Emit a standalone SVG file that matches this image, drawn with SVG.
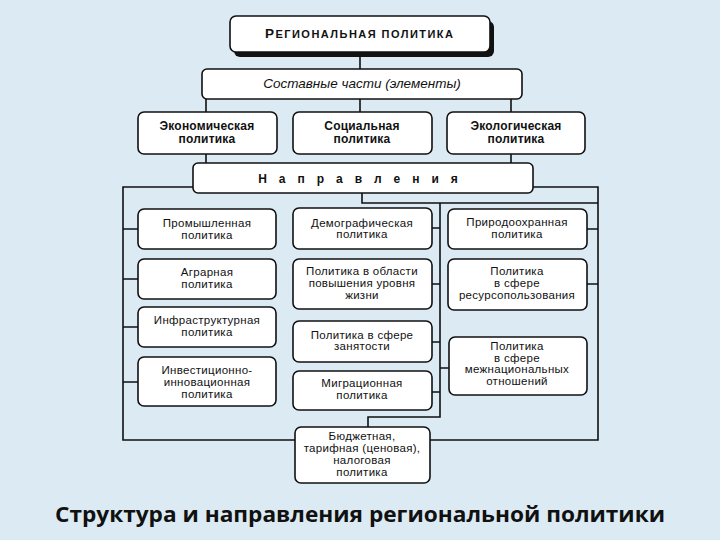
<svg xmlns="http://www.w3.org/2000/svg" width="720" height="540" viewBox="0 0 720 540">
<style>
.box{fill:#fff;stroke:#111;stroke-width:1.6}
.ln{fill:none;stroke:#111;stroke-width:1.6}
.t{font-family:"Liberation Sans",Arial,sans-serif;font-size:11.5px;letter-spacing:0.3px;fill:#111;text-anchor:middle}
.b{font-weight:bold;font-size:12px;letter-spacing:0.2px}
.dir{font-weight:bold;font-size:12px;letter-spacing:12px}
.ttl{font-weight:bold;font-size:11px;letter-spacing:0}
.it{font-style:italic;font-size:13.5px;letter-spacing:0}
</style>
<rect width="720" height="540" fill="#dcebf3"/>
<g id="connectors">
<path class="ln" d="M360 52V69M206 99V112M360 99V112M511 99V112M206 154V163M511 154V163"/>
<path class="ln" d="M193 187H123V440H295M533 187H598V440H430"/>
<path class="ln" d="M123 229H138M123 279H138M123 327H138M123 382H138"/>
<path class="ln" d="M362 193V203H598M440 203V417H368V427"/>
<path class="ln" d="M432 228H440M432 284H440M432 342H440M430 392H440M440 368H449M587 229H598M587 284H598"/>
</g>
<g id="n-top">
<rect x="234" y="21" width="260" height="36" rx="6" fill="#111"/>
<rect class="box" x="230" y="16" width="260" height="36" rx="6"/>
<text class="t ttl" x="359" y="38" textLength="188"><tspan style="font-size:13.5px">Р</tspan>ЕГИОНАЛЬНАЯ ПОЛИТИКА</text>
</g>
<g id="n-parts">
<rect class="box" x="202" y="69" width="320" height="30" rx="5"/>
<text class="t it" x="362" y="88">Составные части (элементы)</text>
</g>
<g id="n-econ">
<rect class="box" x="138" y="112" width="139" height="42" rx="6"/>
<text class="t b" x="207" y="129.5">Экономическая</text>
<text class="t b" x="207" y="142.5">политика</text>
</g>
<g id="n-soc">
<rect class="box" x="293" y="112" width="139" height="42" rx="6"/>
<text class="t b" x="362" y="129.5">Социальная</text>
<text class="t b" x="362" y="142.5">политика</text>
</g>
<g id="n-eco">
<rect class="box" x="447" y="112" width="138" height="42" rx="6"/>
<text class="t b" x="516" y="129.5">Экологическая</text>
<text class="t b" x="516" y="142.5">политика</text>
</g>
<g id="n-dir">
<rect class="box" x="193" y="163" width="340" height="30" rx="5"/>
<text class="t dir" x="364" y="183">Направления</text>
</g>
<g id="n-prom">
<rect class="box" x="138" y="209" width="138" height="40" rx="6"/>
<text class="t" x="207" y="227">Промышленная</text>
<text class="t" x="207" y="238.5">политика</text>
</g>
<g id="n-agr">
<rect class="box" x="138" y="259" width="138" height="40" rx="6"/>
<text class="t" x="207" y="276">Аграрная</text>
<text class="t" x="207" y="288">политика</text>
</g>
<g id="n-infra">
<rect class="box" x="138" y="307" width="138" height="40" rx="6"/>
<text class="t" x="207" y="324">Инфраструктурная</text>
<text class="t" x="207" y="336">политика</text>
</g>
<g id="n-invest">
<rect class="box" x="138" y="357" width="138" height="49" rx="6"/>
<text class="t" x="207" y="374">Инвестиционно-</text>
<text class="t" x="207" y="386">инновационная</text>
<text class="t" x="207" y="397.5">политика</text>
</g>
<g id="n-demo">
<rect class="box" x="293" y="208" width="139" height="41" rx="6"/>
<text class="t" x="362" y="227">Демографическая</text>
<text class="t" x="362" y="238">политика</text>
</g>
<g id="n-life">
<rect class="box" x="293" y="259" width="139" height="50" rx="6"/>
<text class="t" x="362" y="275">Политика в области</text>
<text class="t" x="362" y="287">повышения уровня</text>
<text class="t" x="362" y="298.5">жизни</text>
</g>
<g id="n-empl">
<rect class="box" x="293" y="321" width="139" height="41" rx="6"/>
<text class="t" x="362" y="338.5">Политика в сфере</text>
<text class="t" x="362" y="350">занятости</text>
</g>
<g id="n-migr">
<rect class="box" x="293" y="371" width="139" height="39" rx="6"/>
<text class="t" x="362" y="387">Миграционная</text>
<text class="t" x="362" y="398.5">политика</text>
</g>
<g id="n-budget">
<rect class="box" x="295" y="427" width="135" height="56" rx="6"/>
<text class="t" x="362" y="440">Бюджетная,</text>
<text class="t" x="362" y="452">тарифная (ценовая),</text>
<text class="t" x="362" y="464">налоговая</text>
<text class="t" x="362" y="476">политика</text>
</g>
<g id="n-nature">
<rect class="box" x="448" y="209" width="139" height="40" rx="6"/>
<text class="t" x="517" y="226">Природоохранная</text>
<text class="t" x="517" y="237.5">политика</text>
</g>
<g id="n-res">
<rect class="box" x="448" y="259" width="139" height="51" rx="6"/>
<text class="t" x="517" y="275">Политика</text>
<text class="t" x="517" y="287">в сфере</text>
<text class="t" x="517" y="299">ресурсопользования</text>
</g>
<g id="n-nat">
<rect class="box" x="449" y="337" width="138" height="58" rx="6"/>
<text class="t" x="517" y="350">Политика</text>
<text class="t" x="517" y="361.5">в сфере</text>
<text class="t" x="517" y="373">межнациональных</text>
<text class="t" x="517" y="384.5">отношений</text>
</g>
<text x="360" y="522" font-family="'Open Sans','Liberation Sans',sans-serif" font-weight="bold" font-size="22" fill="#111" text-anchor="middle" textLength="610" lengthAdjust="spacingAndGlyphs">Структура и направления региональной политики</text>
</svg>
